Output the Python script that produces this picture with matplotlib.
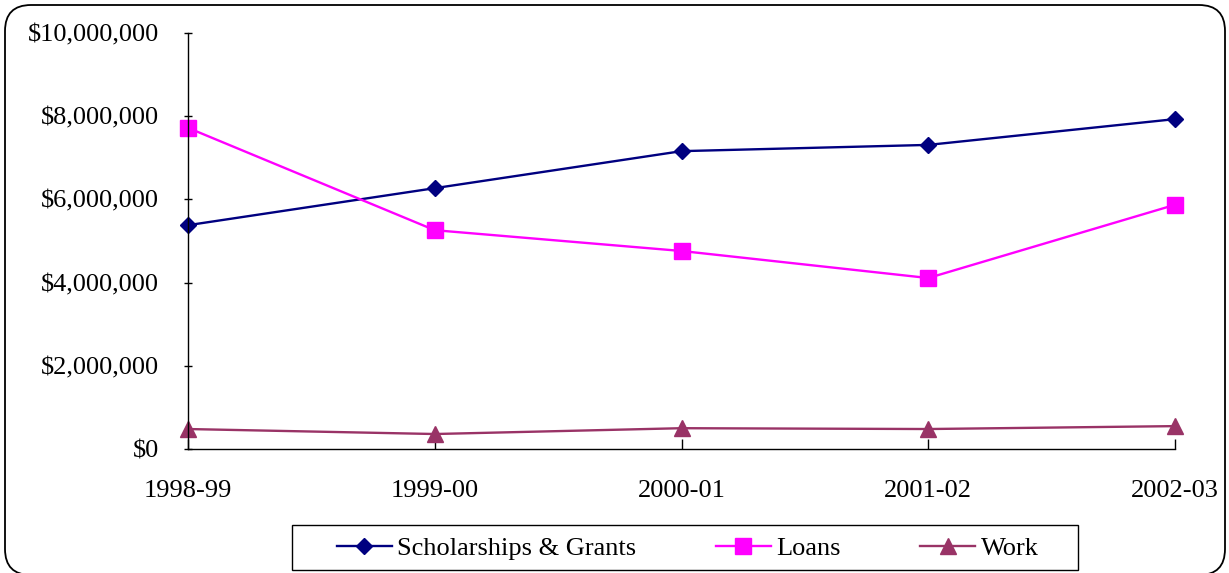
import matplotlib
matplotlib.use("Agg")
import matplotlib.pyplot as plt
from matplotlib.patches import FancyBboxPatch, Rectangle
from matplotlib.transforms import IdentityTransform
from matplotlib.ticker import FuncFormatter

years = ["1998-99", "1999-00", "2000-01", "2001-02", "2002-03"]
scholarships = [5380000, 6270000, 7160000, 7310000, 7930000]
loans = [7720000, 5260000, 4760000, 4110000, 5870000]
work = [480000, 360000, 500000, 480000, 550000]

plt.rcParams['font.family'] = ['Liberation Serif', 'DejaVu Serif']

W, H = 1229, 573
fig = plt.figure(figsize=(W / 100, H / 100), dpi=100)

# rounded outer border (pixel coordinates, origin bottom-left)
border = FancyBboxPatch((5, -2), 1220, H - 3,
                        boxstyle="round,pad=0,rounding_size=26",
                        transform=IdentityTransform(), facecolor='none',
                        edgecolor='black', linewidth=1.3, zorder=5)
fig.patches.append(border)

ax = fig.add_axes([188 / W, 1 - 449 / H, (1175 - 188) / W, (449 - 33) / H])
ax.patch.set_alpha(0)
x = list(range(len(years)))
ax.plot(x, scholarships, color='#000080', marker='D', markersize=7.8, lw=1.7,
        label='Scholarships & Grants', clip_on=False)
ax.plot(x, loans, color='#FF00FF', marker='s', markersize=11.5, lw=1.7,
        label='Loans', clip_on=False)
ax.plot(x, work, color='#993366', marker='^', markersize=11.5, lw=1.7,
        label='Work', clip_on=False)

ax.set_xlim(0, 4)
ax.set_ylim(0, 10000000)
ax.set_yticks(range(0, 10000001, 2000000))
ax.yaxis.set_major_formatter(FuncFormatter(lambda v, p: "${:,.0f}".format(v)))
ax.set_xticks(x)
ax.set_xticklabels(years)
for s in ['top', 'right']:
    ax.spines[s].set_visible(False)
for s in ['left', 'bottom']:
    ax.spines[s].set_linewidth(1.0)
ax.tick_params(axis='y', direction='inout', length=6, width=1.0, labelsize=19, pad=18)
ax.tick_params(axis='x', direction='in', length=7, width=1.0, labelsize=19, pad=22)

leg = fig.legend(loc='center', bbox_to_anchor=(687.5 / W, 1 - 548 / H), ncol=3,
                 fontsize=19, frameon=False,
                 handlelength=2.1, columnspacing=3.0, borderpad=0.2,
                 handletextpad=0.2, borderaxespad=0)
# legend frame in pixel coordinates
frame = Rectangle((292, H - 570), 1078 - 292, 570 - 525,
                  transform=IdentityTransform(), facecolor='none',
                  edgecolor='black', linewidth=1.0, zorder=4)
fig.patches.append(frame)

fig.savefig("out.png", dpi=100)
